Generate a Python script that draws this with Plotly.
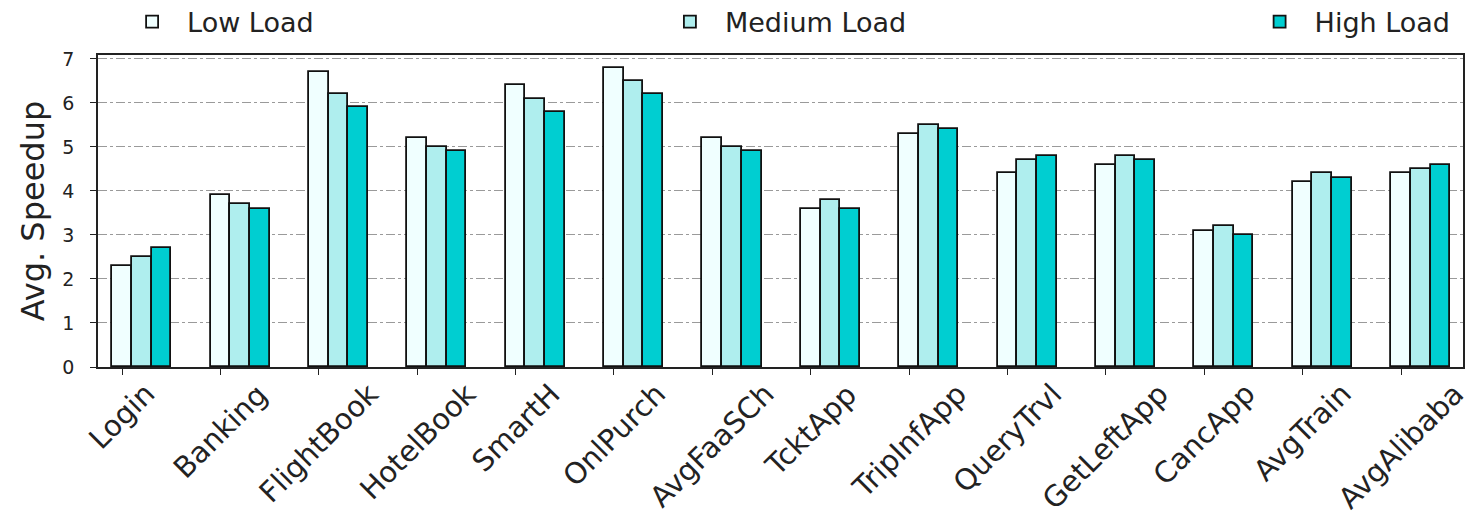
import plotly.graph_objects as go

categories = ["Login", "Banking", "FlightBook", "HotelBook", "SmartH", "OnlPurch",
              "AvgFaaSCh", "TcktApp", "TripInfApp", "QueryTrvl", "GetLeftApp",
              "CancApp", "AvgTrain", "AvgAlibaba"]
low_load = [2.3, 3.9, 6.7, 5.2, 6.4, 6.8, 5.2, 3.6, 5.3, 4.4, 4.6, 3.1, 4.2, 4.4]
medium_load = [2.5, 3.7, 6.2, 5.0, 6.1, 6.5, 5.0, 3.8, 5.5, 4.7, 4.8, 3.2, 4.4, 4.5]
high_load = [2.7, 3.6, 5.9, 4.9, 5.8, 6.2, 4.9, 3.6, 5.4, 4.8, 4.7, 3.0, 4.3, 4.6]
series_names = ["Low Load", "Medium Load", "High Load"]
y_ticks = [0, 1, 2, 3, 4, 5, 6, 7]

colors = ["#F0FFFF", "#AFEEEE", "#00CED1"]
bar_w = 0.2
legend_ids = ["legend", "legend2", "legend3"]
legend_x = [0.014, 0.408, 0.840]

FONT = "DejaVu Sans"
TXT = "#222222"
fig = go.Figure()
idx = list(range(len(categories)))
for i, (name, vals) in enumerate(zip(series_names, [low_load, medium_load, high_load])):
    fig.add_trace(go.Bar(
        x=[j + i * bar_w for j in idx], y=vals, width=bar_w, name=name,
        marker=dict(color=colors[i], line=dict(color="#111111", width=1.8)),
        legend=legend_ids[i],
    ))

layout_legends = {}
for i, lid in enumerate(legend_ids):
    layout_legends[lid] = dict(
        x=legend_x[i], xref="paper", xanchor="left",
        y=0.973, yref="container", yanchor="middle",
        orientation="h", font=dict(family=FONT, size=27, color=TXT),
        bgcolor="rgba(0,0,0,0)", itemwidth=60,
    )

# rotated category labels, centred under each tick (like matplotlib ha="center")
annotations = [
    dict(x=j, y=0, xref="x", yref="paper", text=c, textangle=-45,
         xanchor="center", yanchor="top", yshift=-7, showarrow=False,
         font=dict(family=FONT, size=29, color=TXT))
    for j, c in zip(idx, categories)
]

fig.update_layout(
    width=1476, height=519,
    margin=dict(l=90, r=21, t=47, b=160, autoexpand=False),
    plot_bgcolor="white", paper_bgcolor="white",
    barmode="overlay", bargap=0,
    showlegend=True,
    font=dict(family=FONT, color=TXT),
    annotations=annotations,
    **layout_legends,
)
fig.update_xaxes(
    range=[-0.244, 13.63],
    tickmode="array", tickvals=idx, ticktext=categories, showticklabels=False,
    ticks="outside", ticklen=6, tickcolor=TXT,
    showline=True, linecolor=TXT, linewidth=1.5, mirror=True,
    showgrid=False, zeroline=False,
)
fig.update_yaxes(
    range=[0, 7.09],
    tickmode="array", tickvals=y_ticks,
    tickfont=dict(family=FONT, size=19, color=TXT),
    ticks="outside", ticklen=6, tickcolor=TXT, ticklabelstandoff=12,
    showline=True, linecolor=TXT, linewidth=1.5, mirror=True,
    showgrid=True, gridcolor="#9a9a9a", gridwidth=1, griddash="dashdot",
    zeroline=False,
    title=dict(text="Avg. Speedup", font=dict(family=FONT, size=32, color=TXT), standoff=8),
)
fig.write_html("out.html")
